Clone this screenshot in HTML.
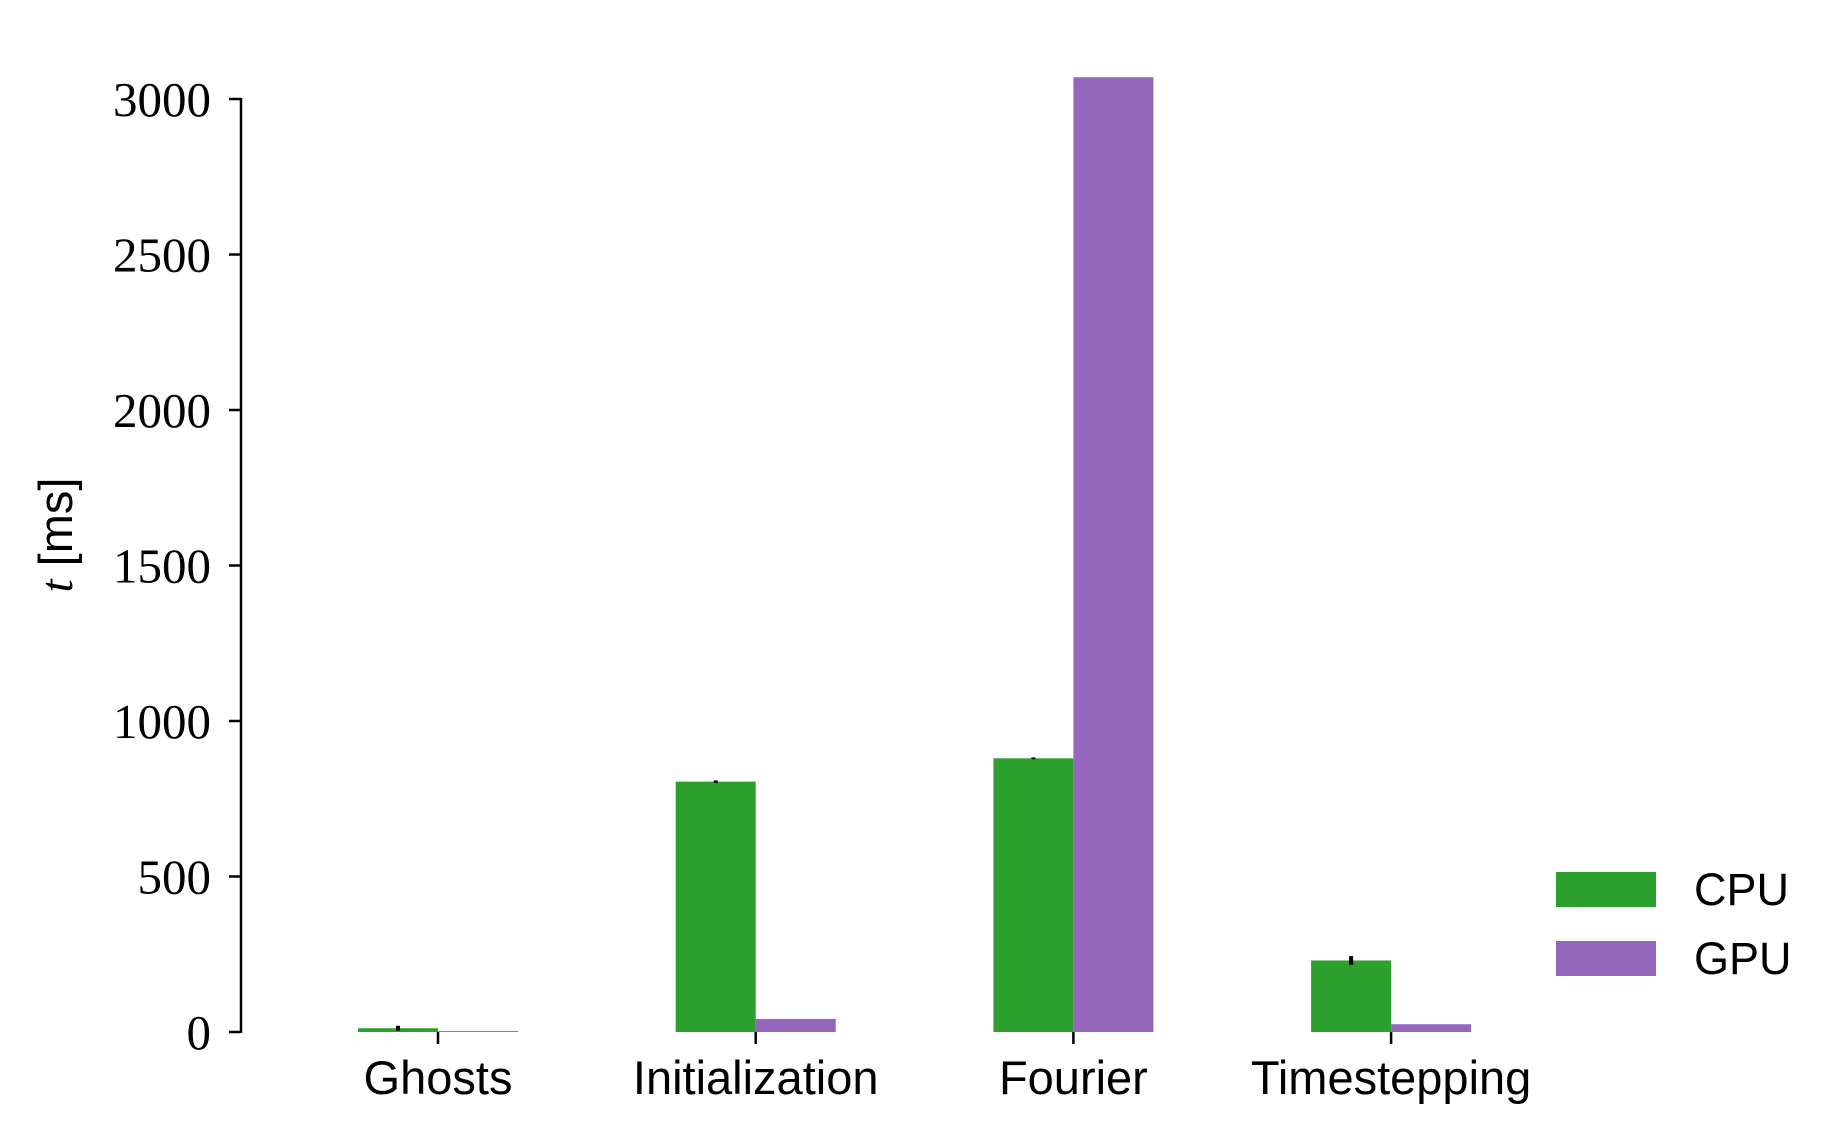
<!DOCTYPE html>
<html><head><meta charset="utf-8"><style>
body{margin:0;background:#fff;}
svg{display:block;}
.tick{font-family:"Liberation Serif",serif;font-size:49px;fill:#000;}
.cat{font-family:"Liberation Sans",sans-serif;font-size:47px;fill:#000;}
.leg{font-family:"Liberation Sans",sans-serif;font-size:45px;fill:#000;}
</style></head><body>
<svg id="chart" width="1840" height="1134" xmlns="http://www.w3.org/2000/svg"></svg>
<script>
const categories=["Ghosts","Initialization","Fourier","Timestepping"];
const cpuValues=[12,805,880,230];
const gpuValues=[3,42,3070,25];
const cpuErr=[8,4,3,14];
const yTicks=[0,500,1000,1500,2000,2500,3000];
const NS="http://www.w3.org/2000/svg";
const svg=document.getElementById('chart');
const axX=241,y0=1032,yTop=99;
function y(v){return y0-(v/3000)*(y0-yTop);}
function xc(i){return 438+i*317.7;}
const bw=80;
function mk(tag,attrs,parent){const e=document.createElementNS(NS,tag);for(const k in attrs)e.setAttribute(k,attrs[k]);(parent||svg).appendChild(e);return e;}
categories.forEach((c,i)=>{
  const r1=mk('rect',{x:xc(i)-bw,y:y(cpuValues[i]),width:bw,height:y0-y(cpuValues[i]),fill:'#2ca02c'});
  
  
  const r2=mk('rect',{x:xc(i),y:y(gpuValues[i]),width:bw,height:y0-y(gpuValues[i]),fill:'#9467bd'});
  
  
  const e=mk('line',{x1:xc(i)-bw/2,x2:xc(i)-bw/2,y1:y(cpuValues[i]+cpuErr[i]),y2:y(cpuValues[i]-cpuErr[i]),stroke:'#000','stroke-width':4});
  
  
  const t=mk('line',{x1:xc(i),x2:xc(i),y1:y0,y2:y0+12,stroke:'#000','stroke-width':2.5});
  
  
  const l=mk('text',{x:xc(i),y:y0+62,'text-anchor':'middle',class:'cat'});
  l.textContent=c;
  
  
});
const ax=mk('line',{x1:axX,x2:axX,y1:y(3000)-1,y2:y0+1,stroke:'#000','stroke-width':2.5});


yTicks.forEach(v=>{
  const t=mk('line',{x1:axX-12,x2:axX,y1:y(v),y2:y(v),stroke:'#000','stroke-width':2.5});
  
  
  const l=mk('text',{x:axX-30,y:y(v)+17,'text-anchor':'end',class:'tick'});
  l.textContent=v;
  
  
});
const yl=mk('text',{x:0,y:0,transform:'translate(72,535) rotate(-90)','text-anchor':'middle',class:'cat'});
yl.innerHTML='<tspan font-family="Liberation Serif" font-style="italic">t</tspan> [ms]';


const leg=[["CPU","#2ca02c",872],["GPU","#9467bd",941]];
leg.forEach(([n,c,yy])=>{
  const r=mk('rect',{x:1556,y:yy,width:100,height:35,fill:c});
  
  
  const t=mk('text',{x:1694,y:yy+33,class:'leg'});
  t.textContent=n;
  
  
});
</script>
</body></html>
